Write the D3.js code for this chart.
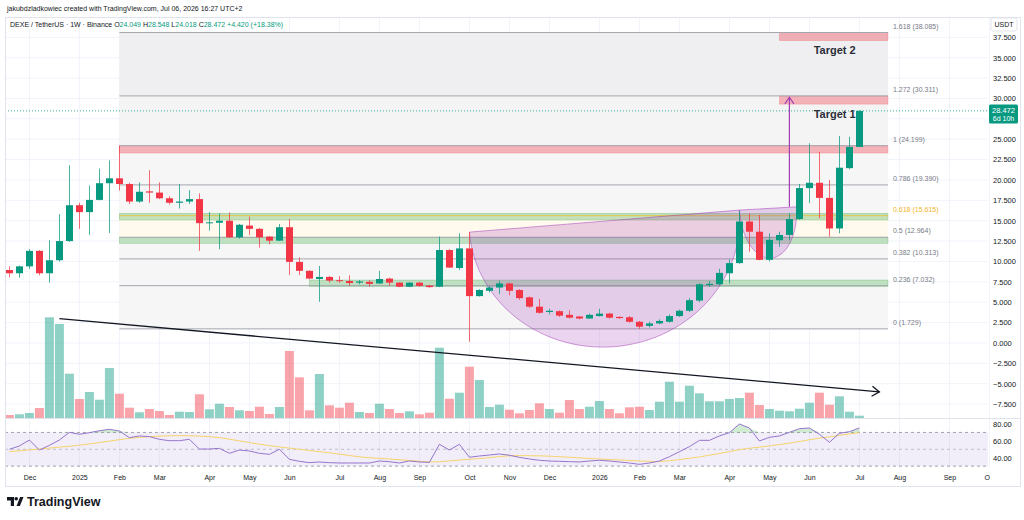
<!DOCTYPE html>
<html>
<head>
<meta charset="utf-8">
<script src="https://cdn.jsdelivr.net/npm/d3@7"></script>
<style>
  body { margin: 0; background: #fff; }
  svg { display: block; font-family: "Liberation Sans", Arial, sans-serif; }
</style>
</head>
<body>
<svg id="chart" width="1024" height="520"></svg>
<script>
// ---- data (weekly DEXE/USDT) ----
const firstWeek = "2024-11-18";
const opens  = [8.95,8.55,9.4,11.3,8.55,10.15,12.5,16.9,16.05,17.55,19.6,20.2,19.5,17.35,18.6,18.45,17.75,17.2,17.35,17.65,
                14.7,14.75,15.0,12.96,14.4,14.0,13.05,12.55,14.2,9.95,8.85,7.85,8.1,7.7,7.6,7.4,7.5,7.3,7.9,7.4,
                6.9,7.4,7.05,6.9,11.4,9.2,11.6,5.75,6.4,6.8,7.3,6.5,5.6,4.45,3.8,3.9,3.45,3.25,3.0,3.3,
                3.6,3.2,3.15,2.6,2.1,2.4,2.6,3.3,3.95,5.2,7.1,7.2,8.55,9.8,14.9,13.65,10.2,12.6,13.25,15.2,
                19.0,19.65,17.8,14.05,21.45,24.049];
const highs  = [9.4,9.5,11.5,11.4,12.6,15.8,21.8,17.2,19.3,21.4,22.4,24.199,19.65,19.7,21.2,19.7,18.0,19.5,18.75,18.35,
                16.05,15.9,16.0,14.6,15.5,14.1,13.1,14.6,15.2,10.5,8.9,9.45,8.2,8.2,8.3,7.7,7.7,8.85,8.0,7.45,
                7.45,7.5,7.1,13.05,11.5,13.45,13.6,6.6,7.0,7.65,7.4,6.6,5.7,5.4,4.2,4.0,4.0,3.3,3.6,4.2,
                3.7,3.25,3.3,2.7,2.6,2.9,3.5,4.1,5.5,7.3,7.6,9.1,10.25,16.2,15.9,15.7,13.45,13.65,15.9,19.5,
                24.5,23.45,20.0,25.4,25.3,28.548];
const lows   = [8.05,8.0,9.1,8.3,7.4,10.0,12.4,14.0,13.25,17.5,13.5,18.7,17.05,17.2,17.2,17.65,17.0,16.5,17.05,11.3,
                13.8,11.5,12.9,12.8,13.25,11.7,12.1,12.5,8.35,8.35,7.8,5.05,7.4,7.4,7.0,7.2,6.9,7.25,7.0,6.85,
                6.85,6.9,6.8,6.85,9.2,8.95,0.15,5.7,6.2,6.0,5.85,5.3,4.3,3.6,3.5,3.2,3.0,2.9,2.95,3.25,
                3.0,2.95,2.5,1.729,1.9,2.3,2.5,3.2,3.8,5.0,6.9,7.1,7.3,9.7,11.2,10.15,10.0,11.8,12.6,15.1,
                17.15,15.3,13.05,13.45,21.3,24.018];
const closes = [8.55,9.4,11.3,8.55,10.15,12.5,16.9,16.05,17.55,19.6,20.2,19.5,17.35,18.55,18.45,17.75,17.2,17.35,17.65,14.7,
                14.8,15.0,12.96,14.5,14.0,12.96,12.55,14.2,9.95,8.85,7.9,8.1,7.65,7.6,7.35,7.55,7.25,7.85,7.4,6.9,
                7.4,7.0,6.85,11.4,9.25,11.6,5.75,6.5,6.8,7.3,6.4,5.5,4.45,3.7,3.95,3.35,3.1,3.0,3.45,3.6,
                3.1,3.05,2.6,2.0,2.4,2.7,3.3,3.95,5.25,7.2,7.25,8.6,9.8,14.9,13.65,10.2,12.65,13.25,15.2,19.0,
                19.65,17.8,14.05,21.5,24.052,28.472];
const volumes = [30,37,50,100,1007,940,443,190,260,183,500,243,103,57,90,70,30,63,60,237,
                 87,143,110,77,70,113,40,110,670,407,77,440,127,103,153,60,50,143,90,50,
                 67,37,53,703,193,253,513,380,110,133,83,47,80,147,90,53,180,90,113,170,
                 90,47,107,113,80,163,363,163,323,247,167,167,190,200,253,130,90,73,67,93,
                 153,253,133,217,63,23];
const rsi = [50,53.9,61,49.1,54.7,61,70.1,67.8,69.7,72,73.7,71.7,63.8,65.8,65,61.8,60.2,60.2,61.8,50.3,
             50.3,51.1,45.2,49.1,48,45.2,44,50,38.1,35.7,34.1,34.9,34.1,33.7,33.7,33.7,33.7,36.1,35.3,33.7,
             36.1,34.9,34.5,55.9,49.1,55.9,40.5,42,43.2,44.4,42.9,40.4,38.5,36.9,36.1,35.7,35.3,34.9,36.1,36.9,
             36.1,34.9,33.7,32.1,33.7,36.1,41.2,47.1,53.1,60.6,60.6,65.8,69.7,80,75.3,59.8,64.2,65.8,70.1,74.4,
             75.3,67.8,58.3,68.9,70.9,75.3];
const rsiMa = [47.2,48.2,49.2,50.3,51.4,52.5,53.6,54.9,56.3,58,59.7,61.4,63,64,65,65.6,66,66.2,66.1,65.6,
               65,63.8,62,60,58,56,54.3,52.8,51.4,50,48.6,47.2,45.8,44.2,42.6,41,40,39.2,38.4,37.6,
               36.7,35.8,34.9,35.2,36.2,37.2,38.1,39,40,41.3,42.3,42.4,42.4,42.2,41.8,41.2,40.5,39.8,39.1,38.5,
               37.9,37.3,36.7,36.1,35.6,35.3,36.5,37.8,39.3,41,43,45,47.2,49.5,51.2,52.5,54,55.6,57.3,59.2,
               61.3,63.2,64.8,66.5,68.2,69.8];

const monthDates  = ["2024-12-02","2025-01-06","2025-02-03","2025-03-03","2025-04-07","2025-05-05","2025-06-02",
                     "2025-07-07","2025-08-04","2025-09-01","2025-10-06","2025-11-03","2025-12-01","2026-01-05",
                     "2026-02-02","2026-03-02","2026-04-06","2026-05-04","2026-06-01","2026-07-06","2026-08-03",
                     "2026-09-07","2026-10-05"];
const monthLabels = ["Dec","2025","Feb","Mar","Apr","May","Jun","Jul","Aug","Sep","Oct","Nov","Dec","2026",
                     "Feb","Mar","Apr","May","Jun","Jul","Aug","Sep","Oct"];
const priceTicks = [-7.5,-5,-2.5,0,2.5,5,7.5,10,12.5,15,17.5,20,22.5,25,27.5,30,32.5,35,37.5];
const rsiTicks = [80,60,40];

const fibRatios = ["0","0.236","0.382","0.5","0.618","0.786","1","1.272","1.618"];
const fibPrices = [1.729,7.032,10.313,12.964,15.615,19.390,24.199,30.311,38.085];
const fibSpan = ["2025-02-03","2026-07-26"];

// horizontal zones: [start, end, top, bottom, kind]
const zones = [
  ["2026-05-11","2026-07-26",38.08,37.1,"red"],
  ["2026-05-11","2026-07-26",30.3,29.3,"red"],
  ["2025-02-03","2026-07-26",24.2,23.3,"red"],
  ["2025-02-03","2026-07-26",15.9,15.08,"green"],
  ["2025-02-03","2026-07-26",12.96,12.22,"green"],
  ["2025-06-16","2026-07-26",7.72,6.93,"green"]
];
// cup and handle arcs: start, end, lowest price
const cupArcs = [
  [["2025-10-06",13.6],["2026-04-13",16.3],-0.5],
  [["2026-04-13",16.3],["2026-05-23",16.7],10.4]
];
const trendLine = [["2024-12-23",2.98],["2026-07-20",-6.0]];
const targetArrow = [["2026-05-18",16.7],["2026-05-18",30.15]];
const targetLabels = [["Target 2","2026-06-04",35.9],["Target 1","2026-06-04",28.1]];

// ---- scales ----
const parse = d3.utcParse("%Y-%m-%d");
const weeks = d3.utcMonday.range(parse(firstWeek), d3.utcDay.offset(parse(firstWeek), opens.length * 7));
const bars = weeks.map((d, i) => ({date: d, o: opens[i], h: highs[i], l: lows[i], c: closes[i],
                                    v: volumes[i], rsi: rsi[i], ma: rsiMa[i]}));

const x = d3.scaleUtc().domain([weeks[0], weeks[weeks.length - 1]]).range([9.4, 859.4]);
const y = d3.scaleLinear().domain([-7.5, 37.5]).range([404.1, 37.3]);
const yVol = d3.scaleLinear().domain([0, d3.max(volumes)]).range([418, 317.3]);
const yRsi = d3.scaleLinear().domain([40, 80]).range([457.7, 424]);
const X = s => x(parse(s));

const UP = "#089981", DOWN = "#f23645";
const paneRight = 988;

const svg = d3.select("#chart");
const defs = svg.append("defs");
defs.append("clipPath").attr("id", "mainClip").append("rect")
  .attr("x", 5).attr("y", 17).attr("width", paneRight - 5).attr("height", 401);
defs.append("clipPath").attr("id", "rsiClip").append("rect")
  .attr("x", 5).attr("y", 419).attr("width", paneRight - 5).attr("height", 49);
defs.append("clipPath").attr("id", "axisClip").append("rect")
  .attr("x", 0).attr("y", 466).attr("width", 990).attr("height", 20);

// header
svg.append("text").attr("x", 7).attr("y", 10.5).attr("font-size", 7).attr("fill", "#131722")
  .text("jakubdzladkowiec created with TradingView.com, Jul 06, 2026 16:27 UTC+2");

// grid
const grid = svg.append("g");
grid.selectAll(".vg").data(monthDates).join("line")
  .attr("x1", d => X(d)).attr("x2", d => X(d)).attr("y1", 17).attr("y2", 468)
  .attr("stroke", "#f0f3fa");
grid.selectAll(".hg").data(priceTicks).join("line")
  .attr("x1", 5).attr("x2", paneRight).attr("y1", d => y(d)).attr("y2", d => y(d))
  .attr("stroke", "#f0f3fa");

const main = svg.append("g").attr("clip-path", "url(#mainClip)");

// fib zones
const fx0 = X(fibSpan[0]), fx1 = X(fibSpan[1]);
const fibZoneFill = ["#f6f6f7","#f6f6f7","#f6f6f7","#fff9ee","#f6f6f7","#f6f6f7","#f4f4f5","#efeff1"];
main.append("g").selectAll("rect").data(fibPrices.slice(0, -1)).join("rect")
  .attr("x", fx0).attr("width", fx1 - fx0)
  .attr("y", (d, i) => y(fibPrices[i + 1])).attr("height", (d, i) => y(d) - y(fibPrices[i + 1]))
  .attr("fill", (d, i) => fibZoneFill[i]);

// zones
main.append("g").selectAll("rect").data(zones).join("rect")
  .attr("x", d => X(d[0])).attr("width", d => X(d[1]) - X(d[0]))
  .attr("y", d => y(d[2])).attr("height", d => y(d[3]) - y(d[2]))
  .attr("fill", d => d[4] === "red" ? "rgba(242,54,69,0.35)" : "rgba(76,175,80,0.32)")
  .attr("stroke", d => d[4] === "red" ? "rgba(242,54,69,0.25)" : "rgba(76,175,80,0.35)")
  .attr("stroke-width", 0.8);

// fib lines
main.append("g").selectAll("line").data(fibPrices).join("line")
  .attr("x1", fx0).attr("x2", fx1).attr("y1", d => y(d)).attr("y2", d => y(d))
  .attr("stroke", (d, i) => fibRatios[i] === "0.618" ? "#e2c64a" : "#a3a6ad").attr("stroke-width", 1);

// cup arcs
function arcPath(p1, p2, bottom) {
  const x1 = X(p1[0]), y1 = y(p1[1]), x2 = X(p2[0]), y2 = y(p2[1]);
  const mx = (x1 + x2) / 2, my = (y1 + y2) / 2;
  const len = Math.hypot(x2 - x1, y2 - y1);
  const ux = (x2 - x1) / len, uy = (y2 - y1) / len;
  const nx = -uy, ny = ux;
  const a = len / 2, b = y(bottom) - my;
  const pts = d3.range(0, 61).map(k => {
    const t = Math.PI * k / 60;
    return [mx - a * Math.cos(t) * ux + b * Math.sin(t) * nx, my - a * Math.cos(t) * uy + b * Math.sin(t) * ny];
  });
  return d3.line()(pts) + "Z";
}
main.append("g").selectAll("path").data(cupArcs).join("path")
  .attr("d", d => arcPath(d[0], d[1], d[2]))
  .attr("fill", "rgba(156,39,176,0.2)").attr("stroke", "rgba(156,39,176,0.45)").attr("stroke-width", 1);

// volume
main.append("g").selectAll("rect").data(bars).join("rect")
  .attr("x", d => x(d.date) - 4.5).attr("width", 9)
  .attr("y", d => yVol(d.v)).attr("height", d => yVol(0) - yVol(d.v))
  .attr("fill", d => d.c >= d.o ? "rgba(8,153,129,0.45)" : "rgba(242,54,69,0.45)");

// candles
const candle = main.append("g").selectAll("g").data(bars).join("g");
candle.append("line")
  .attr("x1", d => Math.round(x(d.date)) + 0.5).attr("x2", d => Math.round(x(d.date)) + 0.5)
  .attr("y1", d => y(d.h)).attr("y2", d => y(d.l))
  .attr("stroke", d => d.c >= d.o ? UP : DOWN).attr("stroke-opacity", 0.75);
candle.append("rect")
  .attr("x", d => Math.round(x(d.date)) - 3).attr("width", 7)
  .attr("y", d => y(Math.max(d.o, d.c)))
  .attr("height", d => Math.max(1, Math.abs(y(d.o) - y(d.c))))
  .attr("fill", d => d.c >= d.o ? UP : DOWN);

// current price line
const last = bars[bars.length - 1];
svg.append("line").attr("x1", 5).attr("x2", paneRight).attr("y1", y(last.c)).attr("y2", y(last.c))
  .attr("stroke", UP).attr("stroke-dasharray", "1,2").attr("stroke-width", 0.8);

// arrows
function chevron(xe, ye, ang, size) {
  const a1 = ang + Math.PI - 0.6, a2 = ang + Math.PI + 0.6;
  return `M${xe + size * Math.cos(a1)},${ye + size * Math.sin(a1)}L${xe},${ye}L${xe + size * Math.cos(a2)},${ye + size * Math.sin(a2)}`;
}
function drawArrow(seg, color, width, size) {
  const x1 = X(seg[0][0]), y1 = y(seg[0][1]), x2 = X(seg[1][0]), y2 = y(seg[1][1]);
  const ang = Math.atan2(y2 - y1, x2 - x1);
  const g = svg.append("g").attr("fill", "none").attr("stroke", color).attr("stroke-width", width);
  g.append("line").attr("x1", x1).attr("y1", y1).attr("x2", x2).attr("y2", y2);
  g.append("path").attr("d", chevron(x2, y2, ang, size));
}
drawArrow(trendLine, "#131722", 1.3, 9);
drawArrow(targetArrow, "#a13fb5", 1.2, 8);

// target texts
svg.append("g").selectAll("text").data(targetLabels).join("text")
  .attr("x", d => X(d[1])).attr("y", d => y(d[2]) + 4)
  .attr("font-size", 11).attr("font-weight", "bold").attr("fill", "#2a2e39")
  .text(d => d[0]);

// fib labels
svg.append("g").selectAll("text").data(fibPrices).join("text")
  .attr("x", fx1 + 5).attr("y", d => y(d) - 4)
  .attr("font-size", 7).attr("fill", (d, i) => fibRatios[i] === "0.618" ? "#f2b529" : "#787b86")
  .text((d, i) => `${fibRatios[i]} (${d.toFixed(3)})`);

// legend line
const legend = svg.append("text").attr("x", 10).attr("y", 26.5).attr("font-size", 7).attr("fill", "#131722");
legend.append("tspan").text("DEXE / TetherUS · 1W · Binance  O");
legend.append("tspan").attr("fill", UP).text(last.o.toFixed(3));
legend.append("tspan").text(" H");
legend.append("tspan").attr("fill", UP).text(last.h.toFixed(3));
legend.append("tspan").text(" L");
legend.append("tspan").attr("fill", UP).text(last.l.toFixed(3));
legend.append("tspan").text(" C");
legend.append("tspan").attr("fill", UP).text(last.c.toFixed(3));
const prev = bars[bars.length - 2].c, chg = last.c - prev;
legend.append("tspan").attr("fill", UP)
  .text(` +${chg.toFixed(3)} (+${(chg / prev * 100).toFixed(2)}%)`);

// RSI pane
const rsiG = svg.append("g").attr("clip-path", "url(#rsiClip)");
svg.append("line").attr("x1", 5).attr("x2", 1020).attr("y1", 418.5).attr("y2", 418.5).attr("stroke", "#e0e3eb");
rsiG.append("rect").attr("x", 5).attr("width", paneRight - 5)
  .attr("y", yRsi(70)).attr("height", yRsi(30) - yRsi(70)).attr("fill", "rgba(126,87,194,0.1)");
rsiG.selectAll(".band").data([70, 50, 30]).join("line")
  .attr("x1", 5).attr("x2", paneRight).attr("y1", d => yRsi(d)).attr("y2", d => yRsi(d))
  .attr("stroke", d => d === 50 ? "#b2b5be" : "#888b94").attr("stroke-dasharray", "3,3").attr("stroke-width", 0.8);
rsiG.append("path").datum(bars)
  .attr("d", d3.area().x(d => x(d.date)).y0(yRsi(70)).y1(d => yRsi(Math.max(70, d.rsi))))
  .attr("fill", "rgba(76,175,80,0.25)");
rsiG.append("path").datum(bars)
  .attr("d", d3.line().x(d => x(d.date)).y(d => yRsi(d.ma)))
  .attr("fill", "none").attr("stroke", "#f7d36b").attr("stroke-width", 1);
rsiG.append("path").datum(bars)
  .attr("d", d3.line().x(d => x(d.date)).y(d => yRsi(d.rsi)))
  .attr("fill", "none").attr("stroke", "#9575cd").attr("stroke-width", 1);

// price axis
const fmt = v => (v < 0 ? "\u2212" : "") + Math.abs(v).toFixed(3);
const pAxis = svg.append("g").attr("transform", "translate(990,0)")
  .call(d3.axisRight(y).tickValues(priceTicks).tickFormat(fmt).tickSize(0).tickPadding(3));
pAxis.select(".domain").remove();
pAxis.selectAll("text").attr("font-size", 7.5).attr("fill", "#131722")
  .attr("font-family", "Liberation Sans, Arial, sans-serif");

const rAxis = svg.append("g").attr("transform", "translate(990,0)")
  .call(d3.axisRight(yRsi).tickValues(rsiTicks).tickFormat(d => d.toFixed(2)).tickSize(0).tickPadding(3));
rAxis.select(".domain").remove();
rAxis.selectAll("text").attr("font-size", 7.5).attr("fill", "#131722")
  .attr("font-family", "Liberation Sans, Arial, sans-serif");

// time axis (clip group in page coordinates, axis translated inside it)
const tAxis = svg.append("g").attr("clip-path", "url(#axisClip)")
  .append("g").attr("transform", "translate(0,470)")
  .call(d3.axisBottom(x).tickValues(monthDates.map(parse)).tickFormat((d, i) => monthLabels[i])
    .tickSize(0).tickPadding(5));
tAxis.select(".domain").remove();
tAxis.selectAll("text").attr("font-size", 7).attr("fill", "#131722")
  .attr("font-family", "Liberation Sans, Arial, sans-serif");

// USDT tag and last price tag
svg.append("rect").attr("x", 991).attr("y", 18).attr("width", 26).attr("height", 13).attr("rx", 2)
  .attr("fill", "#fff").attr("stroke", "#e0e3eb");
svg.append("text").attr("x", 1004).attr("y", 27.3).attr("text-anchor", "middle")
  .attr("font-size", 7).attr("fill", "#131722").text("USDT");
svg.append("rect").attr("x", 989).attr("y", y(last.c) - 6.5).attr("width", 29).attr("height", 19)
  .attr("rx", 1.5).attr("fill", UP);
svg.append("text").attr("x", 1003.5).attr("y", y(last.c) + 2.5).attr("text-anchor", "middle")
  .attr("font-size", 7.5).attr("fill", "#fff").text(last.c.toFixed(3));
svg.append("text").attr("x", 1003.5).attr("y", y(last.c) + 10.5).attr("text-anchor", "middle")
  .attr("font-size", 7).attr("fill", "#fff").text("6d 10h");

// frame
svg.append("rect").attr("x", 5.5).attr("y", 17.5).attr("width", 1015).attr("height", 469)
  .attr("fill", "none").attr("stroke", "#e0e3eb");

// logo
const logo = svg.append("g").attr("fill", "#131722");
logo.append("path").attr("d", "M7,497h7v9h-3.2v-5.6H7z");
logo.append("circle").attr("cx", 16.2).attr("cy", 498.8).attr("r", 1.8);
logo.append("path").attr("d", "M16.5,506l3.6,-9h3.4l-3.6,9z");
svg.append("text").attr("x", 27).attr("y", 506).attr("font-size", 12.5).attr("font-weight", "bold")
  .attr("fill", "#131722").text("TradingView");
</script>
</body>
</html>
